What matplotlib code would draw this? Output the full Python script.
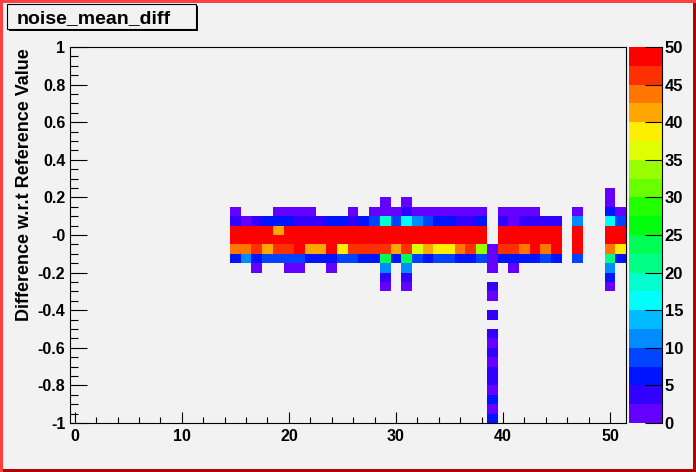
"""
ROOT-style COLZ histogram: noise mean difference per channel.
"""
import colorsys

import numpy as np
import matplotlib
matplotlib.use("Agg")
import matplotlib.pyplot as plt
from matplotlib.colors import ListedColormap, BoundaryNorm
from matplotlib.patches import Rectangle
from matplotlib.lines import Line2D

W, H = 696, 472
BG = "#f2f2f2"
FONT = "Liberation Sans"
OUTPUT = "out.png"

TITLE = "noise_mean_diff"
Y_LABEL = "Difference w.r.t Reference Value"

# histogram binning: 52 channel bins, 40 bins of 0.05 in y
X_EDGES = np.arange(-0.5, 52.0, 1.0)
Y_EDGES = np.linspace(-1.0, 1.0, 41)
Z_LEVELS = np.linspace(0, 50, 21)
FIRST_COL = 15   # row lists below cover channels 15..51

X_TICKS = [0, 10, 20, 30, 40, 50]
Y_TICKS = [1, 0.8, 0.6, 0.4, 0.2, 0, -0.2, -0.4, -0.6, -0.8, -1]
Y_TICK_LABELS = ["1", "0.8", "0.6", "0.4", "0.2", "-0", "-0.2", "-0.4",
                 "-0.6", "-0.8", "-1"]
Z_TICKS = [0, 5, 10, 15, 20, 25, 30, 35, 40, 45, 50]

# entries per y-bin (key = lower bin edge), channels 15..51
#          15 16 17 18 19 20 21 22 23 24   25 26 27 28 29 30 31 32 33 34   35 36 37 38 39 40 41 42 43 44   45 46 47 48 49 50 51
ROW_P020 = [0, 0, 0, 0, 0, 0, 0, 0, 0, 0,   0, 0, 0, 0, 0, 0, 0, 0, 0, 0,   0, 0, 0, 0, 0, 0, 0, 0, 0, 0,   0, 0, 0, 0, 0, 1, 0]
ROW_P015 = [0, 0, 0, 0, 0, 0, 0, 0, 0, 0,   0, 0, 0, 0, 1, 0, 1, 0, 0, 0,   0, 0, 0, 0, 0, 0, 0, 0, 0, 0,   0, 0, 0, 0, 0, 1, 0]
ROW_P010 = [1, 0, 0, 0, 1, 1, 1, 1, 0, 0,   0, 1, 0, 1, 1, 1, 4, 1, 1, 1,   1, 1, 1, 1, 0, 1, 1, 1, 1, 0,   0, 0, 1, 0, 0, 6, 1]
ROW_P005 = [4, 1, 4, 6, 6, 6, 4, 4, 4, 6,   6, 4, 6, 9, 19, 9, 16, 11, 9, 6, 6, 4, 4, 6, 0, 4, 1, 4, 4, 4,   4, 0, 11, 0, 0, 16, 9]
ROW_P000 = [50, 50, 50, 50, 41, 50, 50, 50, 50, 50,
            50, 50, 50, 50, 50, 50, 50, 50, 50, 50,
            50, 50, 50, 50, 0, 50, 50, 50, 50, 50,
            50, 0, 50, 0, 0, 50, 50]
ROW_M005 = [50, 50, 50, 50, 50, 50, 50, 50, 50, 50,
            50, 50, 50, 50, 50, 50, 50, 50, 50, 50,
            50, 50, 50, 50, 0, 50, 50, 50, 50, 50,
            50, 0, 50, 0, 0, 50, 50]
ROW_M010 = [44, 44, 46, 41, 46, 46, 50, 41, 41, 50,
            39, 46, 46, 46, 46, 41, 46, 36, 41, 39,
            39, 44, 46, 34, 1, 46, 46, 44, 50, 44,
            50, 0, 50, 0, 0, 44, 39]
ROW_M015 = [6, 11, 6, 9, 9, 9, 9, 6, 6, 6,   9, 9, 6, 6, 24, 6, 24, 9, 6, 9,   9, 6, 6, 9, 1, 6, 6, 6, 6, 9,   6, 0, 9, 0, 0, 21, 6]
ROW_M020 = [0, 0, 1, 0, 0, 1, 1, 0, 0, 1,   0, 0, 0, 0, 11, 0, 11, 0, 0, 0, 0, 0, 0, 0, 1, 0, 1, 0, 0, 0,   0, 0, 0, 0, 0, 11, 0]
ROW_M025 = [0, 0, 0, 0, 0, 0, 0, 0, 0, 0,   0, 0, 0, 0, 4, 0, 4, 0, 0, 0,   0, 0, 0, 0, 0, 0, 0, 0, 0, 0,   0, 0, 0, 0, 0, 6, 0]
ROW_M030 = [0, 0, 0, 0, 0, 0, 0, 0, 0, 0,   0, 0, 0, 0, 1, 0, 1, 0, 0, 0,   0, 0, 0, 0, 4, 0, 0, 0, 0, 0,   0, 0, 0, 0, 0, 1, 0]

ROWS = {
    0.20: ROW_P020, 0.15: ROW_P015, 0.10: ROW_P010, 0.05: ROW_P005,
    0.00: ROW_P000, -0.05: ROW_M005, -0.10: ROW_M010, -0.15: ROW_M015,
    -0.20: ROW_M020, -0.25: ROW_M025, -0.30: ROW_M030,
}

# channel 39 tail, lower bin edges -0.35 .. -1.0
COL39 = 39
COL39_Y = [-0.35, -0.40, -0.45, -0.50, -0.55, -0.60, -0.65,
           -0.70, -0.75, -0.80, -0.85, -0.90, -0.95, -1.00]
COL39_TAIL = [1, 0, 4, 0, 4, 1, 4, 1, 4, 4, 1, 6, 1, 6]


def root_palette(n_levels=20, n_colors=50):
    # ROOT "pretty palette" (SetPalette(1)) sampled for n_levels contours
    cols = []
    for k in range(n_levels):
        idx = int((k + 0.99) * n_colors / n_levels)
        hue = 280 - (idx + 1) * 280.0 / n_colors
        cols.append(colorsys.hls_to_rgb(hue / 360.0, 0.5, 1.0))
    return cols


def fx(px):
    return px / W


def fy(py):
    return 1 - py / H


def draw():
    plt.rcParams["font.family"] = [FONT, "DejaVu Sans"]
    plt.rcParams["font.weight"] = "bold"

    z = np.zeros((len(Y_EDGES) - 1, len(X_EDGES) - 1))
    for y_lo, vals in ROWS.items():
        i = int(round((y_lo + 1) / 0.05))
        z[i, FIRST_COL:FIRST_COL + len(vals)] = vals
    for y_lo, v in zip(COL39_Y, COL39_TAIL):
        i = int(round((y_lo + 1) / 0.05))
        z[i, COL39] = v
    zm = np.ma.masked_equal(z, 0)

    cmap = ListedColormap(root_palette())
    norm = BoundaryNorm(Z_LEVELS, cmap.N, clip=True)

    fig = plt.figure(figsize=(W / 100, H / 100), dpi=100)
    fig.patch.set_facecolor(BG)

    ax = fig.add_axes([fx(69.5), fy(423), fx(626) - fx(69.5), fy(47) - fy(423)])
    ax.set_facecolor(BG)
    mesh = ax.pcolormesh(X_EDGES, Y_EDGES, zm, cmap=cmap, norm=norm)
    ax.set_xlim(-0.5, 51.5)
    ax.set_ylim(-1, 1)

    ax.set_xticks(X_TICKS)
    ax.set_xticks(np.arange(0, 51, 2), minor=True)
    ax.set_yticks(Y_TICKS)
    ax.set_yticklabels(Y_TICK_LABELS)
    ax.set_yticks(np.arange(-1, 1.001, 0.05), minor=True)
    ax.tick_params(axis="x", which="major", direction="in", length=8.1, width=0.8, pad=4, labelsize=11.5)
    ax.tick_params(axis="x", which="minor", direction="in", length=4.0, width=0.8)
    ax.tick_params(axis="y", which="major", direction="in", length=12.0, width=0.8, pad=3, labelsize=11.5)
    ax.tick_params(axis="y", which="minor", direction="in", length=6.0, width=0.8)
    for s in ax.spines.values():
        s.set_linewidth(0.8)
        s.set_color("black")

    fig.text(fx(25), fy(48), Y_LABEL, rotation=90, rotation_mode="anchor",
             ha="right", va="center", fontsize=13, fontweight="bold")

    # palette axis
    cax = fig.add_axes([fx(629), fy(423), fx(662) - fx(629), fy(47) - fy(423)])
    cb = fig.colorbar(mesh, cax=cax, ticks=Z_TICKS)
    cb.outline.set_visible(False)
    cax.tick_params(axis="y", which="major", direction="in", length=12.5, width=0.8,
                    pad=2, labelsize=12, right=True, left=False)
    cax.tick_params(axis="y", which="minor", length=0)
    cax.add_line(Line2D([1, 1], [0, 1], transform=cax.transAxes, color="black",
                        linewidth=0.8, clip_on=False))

    # title pave with shadow
    fig.add_artist(Rectangle((fx(9), fy(31)), fx(198) - fx(9), fy(6) - fy(31),
                             transform=fig.transFigure, facecolor="black", edgecolor="none"))
    fig.add_artist(Rectangle((fx(7), fy(29)), fx(196) - fx(7), fy(4) - fy(29),
                             transform=fig.transFigure, facecolor=BG, edgecolor="black",
                             linewidth=0.8))
    fig.text(fx(17), fy(23.5), TITLE, fontsize=14, fontweight="bold", va="baseline")

    # canvas border: light top/left, dark bottom/right
    light, dark, b = "#ff4040", "#b30000", 3
    fig.add_artist(Rectangle((0, 0), 1, fy(0) - fy(b), transform=fig.transFigure,
                             facecolor=dark, edgecolor="none"))
    fig.add_artist(Rectangle((fx(W - b), 0), fx(b), 1, transform=fig.transFigure,
                             facecolor=dark, edgecolor="none"))
    fig.add_artist(Rectangle((0, fy(b)), 1, 1 - fy(b), transform=fig.transFigure,
                             facecolor=light, edgecolor="none"))
    fig.add_artist(Rectangle((0, 0), fx(b), 1, transform=fig.transFigure,
                             facecolor=light, edgecolor="none"))

    fig.savefig(OUTPUT, dpi=100, facecolor=BG)
    plt.close(fig)


if __name__ == "__main__":
    draw()
